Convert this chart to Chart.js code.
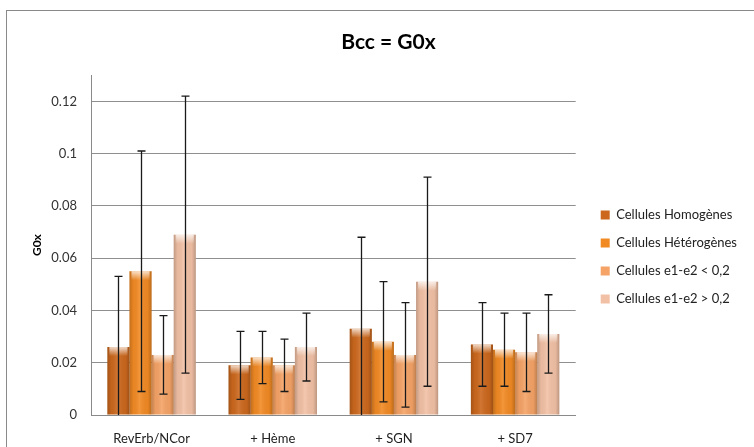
<!DOCTYPE html>
<html>
<head>
<meta charset="utf-8">
<script src="https://cdn.jsdelivr.net/npm/chart.js@4"></script>
<style>
  body { margin: 0; background: #fff; }
  #wrap { width: 754px; height: 447px; }
</style>
</head>
<body>
<div id="wrap"><canvas id="chart" width="754" height="447"></canvas></div>
<script>
// data
const categories = ['RevErb/NCor', '+ Hème', '+ SGN', '+ SD7'];
const seriesNames = ['Cellules Homogènes', 'Cellules Hétérogènes', 'Cellules e1-e2 < 0,2', 'Cellules e1-e2 > 0,2'];
const homog = [0.026, 0.019, 0.033, 0.027];
const homogErr = [0.027, 0.013, 0.035, 0.016];
const hetero = [0.055, 0.022, 0.028, 0.025];
const heteroErr = [0.046, 0.010, 0.023, 0.014];
const lowE = [0.023, 0.019, 0.023, 0.024];
const lowErr = [0.015, 0.010, 0.020, 0.015];
const highE = [0.069, 0.026, 0.051, 0.031];
const highErr = [0.053, 0.013, 0.040, 0.015];
const yTicks = [0, 0.02, 0.04, 0.06, 0.08, 0.1, 0.12];

const colors = ['#cc681d', '#f28a24', '#f5a366', '#f2c1a5'];
const values = [homog, hetero, lowE, highE];
const errors = [homogErr, heteroErr, lowErr, highErr];

const FONT = 'Lato, "Liberation Sans", sans-serif';

// white background + the cropped chart frame
const framePlugin = {
  id: 'frame',
  beforeDraw(chart) {
    const c = chart.ctx;
    c.save();
    c.fillStyle = '#fff';
    c.fillRect(0, 0, chart.width, chart.height);
    c.strokeStyle = '#8a8a8a';
    c.lineWidth = 1;
    c.strokeRect(6.5, 10.5, 900, 600);
    c.restore();
  }
};

// move legend and title a bit, like in the picture
const nudgePlugin = {
  id: 'nudge',
  afterLayout(chart) {
    chart.legend.left += 10;
    chart.legend.right += 10;
    chart.legend.top += 12;
    chart.legend.bottom += 12;
    chart.titleBlock.left += 20;
    chart.titleBlock.right += 20;
  }
};

// glossy look on the bars + error bars
const barFx = {
  id: 'barFx',
  afterDatasetsDraw(chart) {
    const c = chart.ctx;
    const yScale = chart.scales.y;
    const area = chart.chartArea;
    c.save();
    chart.data.datasets.forEach((ds, di) => {
      const meta = chart.getDatasetMeta(di);
      meta.data.forEach((bar) => {
        const p = bar.getProps(['x', 'y', 'width', 'base'], true);
        const left = p.x - p.width / 2;
        const h = p.base - p.y;
        let g = c.createLinearGradient(left, 0, left + p.width, 0);
        g.addColorStop(0, 'rgba(0,0,0,0.20)');
        g.addColorStop(0.18, 'rgba(0,0,0,0.04)');
        g.addColorStop(0.45, 'rgba(255,255,255,0.10)');
        g.addColorStop(0.82, 'rgba(0,0,0,0.04)');
        g.addColorStop(1, 'rgba(0,0,0,0.22)');
        c.fillStyle = g;
        c.fillRect(left, p.y, p.width, h);
        let t = c.createLinearGradient(0, p.y, 0, p.y + 9);
        t.addColorStop(0, 'rgba(255,255,255,0.75)');
        t.addColorStop(1, 'rgba(255,255,255,0)');
        c.fillStyle = t;
        c.fillRect(left + 2, p.y, p.width - 4, 9);
      });
    });
    c.beginPath();
    c.rect(area.left, area.top - 20, area.right - area.left, area.bottom - area.top + 20);
    c.clip();
    c.strokeStyle = '#1a1a1a';
    c.lineWidth = 1.3;
    chart.data.datasets.forEach((ds, di) => {
      const meta = chart.getDatasetMeta(di);
      meta.data.forEach((bar, i) => {
        const v = values[di][i], e = errors[di][i];
        const x = Math.round(bar.x) + 0.5;
        const yHi = yScale.getPixelForValue(v + e);
        const yLo = yScale.getPixelForValue(v - e);
        c.beginPath();
        c.moveTo(x, yHi); c.lineTo(x, yLo);
        c.moveTo(x - 4, yHi); c.lineTo(x + 4, yHi);
        c.moveTo(x - 4, yLo); c.lineTo(x + 4, yLo);
        c.stroke();
      });
    });
    c.restore();
  }
};

new Chart(document.getElementById('chart'), {
  type: 'bar',
  data: {
    labels: categories,
    datasets: seriesNames.map((name, i) => ({
      label: name,
      data: values[i],
      backgroundColor: colors[i],
      borderWidth: 0,
      categoryPercentage: 0.73,
      barPercentage: 1.0
    }))
  },
  options: {
    responsive: false,
    animation: false,
    layout: { padding: { left: 0, right: 17, top: 0, bottom: 0 } },
    plugins: {
      title: {
        display: true,
        text: 'Bcc = G0x',
        color: '#000',
        font: { family: FONT, size: 21, weight: 'bold' },
        padding: { top: 30, bottom: 20 }
      },
      legend: {
        position: 'right',
        fullSize: false,
        labels: {
          boxWidth: 9,
          boxHeight: 9,
          padding: 15,
          color: '#222',
          font: { family: FONT, size: 13 }
        }
      },
      tooltip: { enabled: false }
    },
    scales: {
      x: {
        grid: { display: false },
        border: { color: '#8a8a8a' },
        ticks: { color: '#222', padding: 8, font: { family: FONT, size: 13 } },
        afterFit(scale) { scale.height = 32; }
      },
      y: {
        min: 0,
        max: 0.13,
        afterBuildTicks(scale) { scale.ticks = yTicks.map(v => ({ value: v })); },
        grid: { color: '#8f8f8f', drawTicks: false },
        border: { color: '#8a8a8a' },
        ticks: {
          color: '#333',
          padding: 14,
          font: { family: FONT, size: 13 },
          callback: v => String(+v.toFixed(2))
        },
        title: {
          display: true,
          text: 'G0x',
          color: '#000',
          font: { family: FONT, size: 12, weight: 'bold' },
          padding: { top: 30, bottom: 0 }
        },
        afterFit(scale) { scale.width = 91; }
      }
    }
  },
  plugins: [framePlugin, nudgePlugin, barFx]
});
</script>
</body>
</html>
